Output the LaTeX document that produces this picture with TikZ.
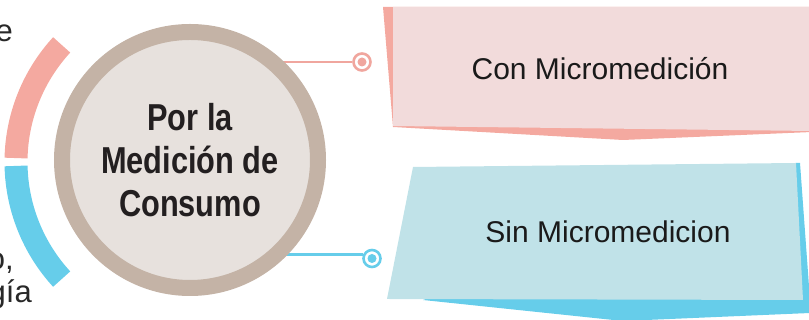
\documentclass[tikz,border=0pt]{standalone}
\usepackage{fontspec}
\setmainfont{Liberation Sans}
\newfontfamily\narrowbold{Liberation Sans}[FakeStretch=0.82]
\begin{document}
\begin{tikzpicture}[x=1pt,y=1pt,
  pinkdark/.style={fill={rgb,255:red,244;green,169;blue,160}},
  pinklight/.style={fill={rgb,255:red,242;green,219;blue,219}},
  bluedark/.style={fill={rgb,255:red,102;green,205;blue,234}},
  bluelight/.style={fill={rgb,255:red,192;green,226;blue,232}},
  target/.style={circle,draw=#1,line width=2.6pt,fill=white,minimum size=17pt,inner sep=0pt,
    path picture={\fill[#1] (path picture bounding box.center) circle[radius=4.5pt];}},
  conn/.style={draw=#1,line width=2.4pt},
  boxlabel/.style={text={rgb,255:red,26;green,26;blue,26},font=\fontsize{30}{36}\selectfont},
  sidetext/.style={text={rgb,255:red,40;green,40;blue,40},font=\fontsize{31}{36}\selectfont,anchor=base east,inner sep=0pt}]
\definecolor{pinkc}{RGB}{240,166,158}
\definecolor{bluec}{RGB}{102,205,234}
\definecolor{ringc}{RGB}{196,179,166}
\definecolor{innerc}{RGB}{231,225,221}
\useasboundingbox (0,0) rectangle (809,320);
\clip (0,0) rectangle (809,320);
% left partial texts
\node[sidetext] (le) at (13,278) {e};
\node[sidetext] (lo) at (14,50) {o,};
\node[sidetext] (lg) at (32,17) {gía};
% arcs
\coordinate (cc) at (189,158);
\draw[line width=23pt,draw={rgb,255:red,244;green,169;blue,160}] (cc) ++(137.4:173pt) arc[start angle=137.4,end angle=178.7,radius=173pt];
\draw[line width=23pt,draw=bluec] (cc) ++(181.3:173pt) arc[start angle=181.3,end angle=222.6,radius=173pt];
% boxes
\path[pinkdark] (383,313) -- (812,313) -- (812,188) -- (623,180) -- (393,193) -- cycle;
\path[pinklight] (393,313) -- (812,313) -- (812,189) -- (393,194) -- cycle;
\path[bluedark] (796,157) -- (800,157) -- (810,20) -- (810,7) -- (623,-1) -- (423,20) -- cycle;
\path[bluelight] (413,153) -- (796,157) -- (803,20) -- (387,21) -- cycle;
\node[boxlabel] (con) at (600,251) {Con Micromedición};
\node[boxlabel] (sin) at (608,88) {Sin Micromedicion};
% targets and connectors
\node[target=pinkc] (t1) at (362,258) {};
\node[target=bluec] (t2) at (372,61.5) {};
\draw[conn=pinkc] (t1.west -| cc) -- (t1.west);
\draw[conn=bluec] (t2.155 -| cc) -- (t2.155);
% main circle
\node[circle,draw=ringc,line width=16pt,fill=innerc,minimum size=256pt,inner sep=0pt,
  align=center,text={rgb,255:red,35;green,31;blue,32},
  font=\narrowbold\bfseries\fontsize{37.5}{43}\selectfont] (c) at (190,160) {Por la\\Medición de\\Consumo};
\end{tikzpicture}
\end{document}
